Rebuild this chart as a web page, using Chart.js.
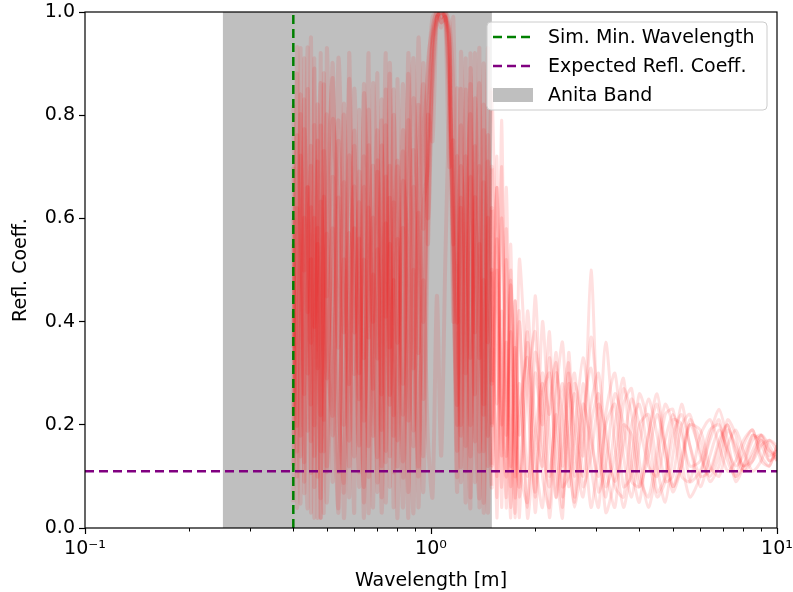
<!DOCTYPE html>
<html>
<head>
<meta charset="utf-8">
<script src="https://cdn.jsdelivr.net/npm/chart.js@4.4.1/dist/chart.umd.min.js"></script>
<style>
  html, body { margin: 0; padding: 0; background: #fff; }
  #wrap { width: 793px; height: 592px; }
</style>
</head>
<body>
<div id="wrap"><canvas id="reflChart" width="793" height="592"></canvas></div>
<script>
// Wavelength grid [m] shared by all simulated runs
const wavelength = [
  0.40, 0.41, 0.42, 0.43, 0.44, 0.45, 0.46, 0.47, 0.48, 0.49, 0.50, 0.52,
  0.54, 0.56, 0.58, 0.60, 0.62, 0.64, 0.66, 0.68, 0.70, 0.72, 0.74, 0.76,
  0.78, 0.80, 0.83, 0.86, 0.89, 0.92, 0.95, 0.98, 1.01, 1.04, 1.07, 1.10,
  1.13, 1.16, 1.19, 1.22, 1.26, 1.30, 1.34, 1.38, 1.42, 1.46, 1.50,
  1.55, 1.6, 1.65, 1.7, 1.75, 1.8, 1.9, 2.0, 2.1, 2.2, 2.3, 2.4, 2.5, 2.6,
  2.75, 2.9, 3.05, 3.2, 3.4, 3.6, 3.8, 4.0, 4.25, 4.5, 4.75, 5.0, 5.3, 5.6,
  6.0, 6.4, 6.8, 7.2, 7.6, 8.0, 8.5, 9.0, 9.5, 10.0
];

// Reflection coefficient of each simulated run, one value per wavelength
const reflA = [
  0.05, 0.62, 0.18, 0.91, 0.30, 0.74, 0.08, 0.55, 0.22, 0.86, 0.12, 0.68, 0.35, 0.80, 0.06, 0.58,
  0.25, 0.72, 0.10, 0.49, 0.33, 0.83, 0.15, 0.64, 0.04, 0.70, 0.28, 0.88, 0.19, 0.61, 0.40, 0.75,
  0.95, 0.99, 1.00, 0.99, 0.85, 0.62, 0.15, 0.78, 0.30, 0.86, 0.09, 0.55, 0.22, 0.71, 0.12,
  0.66, 0.20, 0.52, 0.08, 0.44, 0.18, 0.38, 0.06, 0.30, 0.22, 0.34, 0.12, 0.28, 0.20, 0.10, 0.24,
  0.30, 0.17, 0.09, 0.16, 0.25, 0.20, 0.12, 0.10, 0.17, 0.22, 0.18, 0.12, 0.13, 0.19, 0.20, 0.15,
  0.12, 0.14, 0.18, 0.17, 0.14, 0.15
];
const reflB = [
  0.70, 0.10, 0.84, 0.26, 0.66, 0.03, 0.78, 0.31, 0.92, 0.15, 0.57, 0.09, 0.75, 0.20, 0.87, 0.38,
  0.63, 0.05, 0.81, 0.27, 0.69, 0.12, 0.59, 0.24, 0.85, 0.17, 0.73, 0.07, 0.66, 0.34, 0.90, 0.60,
  0.85, 0.99, 1.00, 0.99, 0.93, 0.40, 0.72, 0.20, 0.91, 0.06, 0.64, 0.33, 0.82, 0.18, 0.50,
  0.06, 0.79, 0.14, 0.48, 0.02, 0.40, 0.10, 0.45, 0.16, 0.08, 0.26, 0.36, 0.14, 0.05, 0.22, 0.31,
  0.20, 0.08, 0.14, 0.27, 0.22, 0.10, 0.06, 0.15, 0.24, 0.20, 0.10, 0.09, 0.18, 0.21, 0.16, 0.11,
  0.13, 0.17, 0.19, 0.14, 0.12, 0.16
];
const reflC = [
  0.35, 0.88, 0.14, 0.60, 0.42, 0.95, 0.20, 0.71, 0.02, 0.64, 0.45, 0.90, 0.11, 0.52, 0.28, 0.77,
  0.16, 0.86, 0.37, 0.60, 0.07, 0.74, 0.41, 0.88, 0.22, 0.56, 0.13, 0.79, 0.31, 0.95, 0.58, 0.90,
  0.97, 1.00, 0.99, 1.00, 0.80, 0.55, 0.40, 0.85, 0.11, 0.68, 0.26, 0.93, 0.05, 0.60, 0.28,
  0.72, 0.04, 0.58, 0.12, 0.35, 0.02, 0.42, 0.20, 0.12, 0.33, 0.18, 0.04, 0.24, 0.30, 0.14, 0.50,
  0.16, 0.06, 0.20, 0.29, 0.12, 0.05, 0.18, 0.26, 0.16, 0.08, 0.12, 0.21, 0.17, 0.11, 0.16, 0.20,
  0.14, 0.11, 0.15, 0.18, 0.15, 0.13
];
const reflD = [
  0.12, 0.47, 0.80, 0.09, 0.66, 0.24, 0.89, 0.38, 0.06, 0.73, 0.29, 0.58, 0.03, 0.82, 0.44, 0.14,
  0.69, 0.33, 0.92, 0.18, 0.54, 0.26, 0.78, 0.08, 0.63, 0.36, 0.86, 0.21, 0.50, 0.12, 0.74, 0.88,
  0.99, 1.00, 0.98, 0.99, 0.96, 0.55, 0.85, 0.09, 0.55, 0.80, 0.17, 0.45, 0.90, 0.30, 0.08,
  0.56, 0.24, 0.10, 0.47, 0.30, 0.06, 0.28, 0.38, 0.10, 0.04, 0.30, 0.22, 0.08, 0.18, 0.33, 0.20,
  0.07, 0.12, 0.26, 0.20, 0.09, 0.08, 0.18, 0.24, 0.14, 0.07, 0.12, 0.20, 0.19, 0.12, 0.10, 0.16,
  0.19, 0.15, 0.11, 0.13, 0.17, 0.16
];
const reflE = [
  0.55, 0.20, 0.93, 0.07, 0.48, 0.70, 0.14, 0.82, 0.40, 0.03, 0.61, 0.87, 0.25, 0.09, 0.72, 0.46,
  0.11, 0.84, 0.59, 0.04, 0.71, 0.48, 0.13, 0.90, 0.42, 0.02, 0.67, 0.51, 0.16, 0.82, 0.25, 0.80,
  0.75, 0.99, 1.00, 0.99, 0.94, 0.45, 0.24, 0.70, 0.46, 0.04, 0.83, 0.52, 0.15, 0.76, 0.44,
  0.10, 0.60, 0.30, 0.02, 0.44, 0.12, 0.05, 0.34, 0.24, 0.02, 0.20, 0.28, 0.16, 0.04, 0.16, 0.37,
  0.22, 0.03, 0.10, 0.24, 0.27, 0.13, 0.04, 0.12, 0.22, 0.23, 0.13, 0.06, 0.10, 0.18, 0.23, 0.17,
  0.10, 0.12, 0.17, 0.18, 0.13, 0.14
];
const reflF = [
  0.82, 0.31, 0.05, 0.77, 0.58, 0.17, 0.91, 0.02, 0.63, 0.47, 0.11, 0.79, 0.60, 0.07, 0.92, 0.30,
  0.56, 0.02, 0.74, 0.40, 0.88, 0.06, 0.68, 0.35, 0.80, 0.51, 0.04, 0.61, 0.91, 0.43, 0.07, 0.58,
  0.94, 0.99, 1.00, 0.98, 0.70, 0.75, 0.20, 0.62, 0.05, 0.89, 0.38, 0.70, 0.03, 0.54, 0.85,
  0.40, 0.08, 0.66, 0.20, 0.03, 0.52, 0.26, 0.07, 0.40, 0.18, 0.06, 0.24, 0.32, 0.10, 0.28, 0.12,
  0.04, 0.22, 0.30, 0.14, 0.06, 0.16, 0.25, 0.18, 0.09, 0.10, 0.20, 0.22, 0.14, 0.10, 0.14, 0.21,
  0.18, 0.11, 0.13, 0.18, 0.16, 0.13
];
const reflG = [
  0.22, 0.76, 0.44, 0.13, 0.85, 0.36, 0.60, 0.10, 0.78, 0.21, 0.93, 0.33, 0.04, 0.67, 0.17, 0.85,
  0.48, 0.08, 0.62, 0.28, 0.14, 0.79, 0.05, 0.55, 0.18, 0.87, 0.10, 0.45, 0.73, 0.04, 0.62, 0.70,
  0.88, 0.99, 0.97, 1.00, 0.95, 0.60, 0.10, 0.92, 0.58, 0.20, 0.74, 0.04, 0.67, 0.12, 0.62,
  0.02, 0.42, 0.18, 0.55, 0.06, 0.22, 0.33, 0.03, 0.26, 0.30, 0.12, 0.02, 0.34, 0.16, 0.06, 0.20,
  0.26, 0.12, 0.04, 0.20, 0.18, 0.08, 0.14, 0.22, 0.16, 0.08, 0.14, 0.20, 0.15, 0.09, 0.12, 0.19,
  0.16, 0.12, 0.14, 0.17, 0.15, 0.14
];
const reflH = [
  0.60, 0.04, 0.37, 0.83, 0.19, 0.52, 0.02, 0.66, 0.86, 0.27, 0.05, 0.44, 0.79, 0.38, 0.57, 0.03,
  0.81, 0.21, 0.45, 0.70, 0.09, 0.37, 0.92, 0.26, 0.48, 0.12, 0.77, 0.37, 0.03, 0.68, 0.86, 0.55,
  0.93, 0.98, 0.99, 1.00, 0.98, 0.85, 0.45, 0.12, 0.85, 0.14, 0.60, 0.86, 0.24, 0.93, 0.20,
  0.50, 0.14, 0.36, 0.04, 0.27, 0.42, 0.02, 0.18, 0.28, 0.10, 0.22, 0.06, 0.18, 0.26, 0.08, 0.14,
  0.24, 0.19, 0.08, 0.06, 0.20, 0.24, 0.14, 0.06, 0.09, 0.18, 0.22, 0.16, 0.10, 0.11, 0.17, 0.20,
  0.15, 0.12, 0.13, 0.16, 0.17, 0.15
];
const reflI = [
  0.18, 0.93, 0.58, 0.25, 0.04, 0.62, 0.39, 0.75, 0.15, 0.50, 0.80, 0.18, 0.64, 0.02, 0.41, 0.66,
  0.08, 0.52, 0.16, 0.86, 0.58, 0.03, 0.45, 0.70, 0.11, 0.31, 0.58, 0.02, 0.83, 0.56, 0.14, 0.79,
  0.96, 1.00, 0.98, 0.99, 0.88, 0.55, 0.07, 0.64, 0.16, 0.92, 0.22, 0.06, 0.77, 0.36, 0.70,
  0.24, 0.70, 0.04, 0.38, 0.16, 0.08, 0.36, 0.14, 0.04, 0.24, 0.32, 0.08, 0.10, 0.28, 0.20, 0.04,
  0.15, 0.36, 0.16, 0.04, 0.13, 0.26, 0.20, 0.07, 0.10, 0.21, 0.20, 0.09, 0.11, 0.17, 0.21, 0.13,
  0.10, 0.16, 0.19, 0.13, 0.12, 0.16
];
const reflJ = [
  0.42, 0.15, 0.72, 0.50, 0.93, 0.11, 0.33, 0.58, 0.02, 0.88, 0.35, 0.22, 0.91, 0.55, 0.12, 0.74,
  0.30, 0.66, 0.03, 0.40, 0.77, 0.19, 0.85, 0.14, 0.57, 0.71, 0.22, 0.92, 0.40, 0.10, 0.48, 0.17,
  0.06, 0.45, 0.14, 0.52, 0.82, 0.99, 0.50, 0.18, 0.72, 0.33, 0.92, 0.15, 0.48, 0.03, 0.35,
  0.66, 0.26, 0.06, 0.50, 0.10, 0.28, 0.04, 0.30, 0.20, 0.38, 0.06, 0.16, 0.30, 0.06, 0.24, 0.17,
  0.10, 0.20, 0.24, 0.08, 0.10, 0.20, 0.22, 0.12, 0.05, 0.14, 0.24, 0.16, 0.08, 0.14, 0.19, 0.15,
  0.09, 0.12, 0.18, 0.16, 0.13, 0.15
];
const reflRuns = [reflA, reflB, reflC, reflD, reflE, reflF, reflG, reflH, reflI, reflJ];

// Reference markers
const anitaBand = [0.25, 1.5];
const simMinWavelength = 0.4;
const expectedRefl = 0.11;

// Axis ticks
const xRange = [0.1, 10];
const xTickValues = [0.1, 1, 10];
const xTickLabels = ['10⁻¹', '10⁰', '10¹'];
const xMinorTicks = [0.2, 0.3, 0.4, 0.5, 0.6, 0.7, 0.8, 0.9, 2, 3, 4, 5, 6, 7, 8, 9];
const yTickValues = [0, 0.2, 0.4, 0.6, 0.8, 1.0];

const legendItems = [
  { label: 'Sim. Min. Wavelength', kind: 'line', color: '#008000' },
  { label: 'Expected Refl. Coeff.', kind: 'line', color: '#800080' },
  { label: 'Anita Band', kind: 'patch', color: '#bfbfbf' }
];

Chart.defaults.font.family = "'DejaVu Sans', sans-serif";
Chart.defaults.font.size = 19;
Chart.defaults.color = '#000';

function roundRectPath(ctx, x, y, w, h, r) {
  ctx.beginPath();
  ctx.moveTo(x + r, y);
  ctx.lineTo(x + w - r, y);
  ctx.arcTo(x + w, y, x + w, y + r, r);
  ctx.lineTo(x + w, y + h - r);
  ctx.arcTo(x + w, y + h, x + w - r, y + h, r);
  ctx.lineTo(x + r, y + h);
  ctx.arcTo(x, y + h, x, y + h - r, r);
  ctx.lineTo(x, y + r);
  ctx.arcTo(x, y, x + r, y, r);
  ctx.closePath();
}

// Minor ticks, axes frame and the in-plot legend
const frameAndLegend = {
  id: 'frameAndLegend',
  afterDraw(chart) {
    const { ctx, chartArea: a } = chart;
    const xs = chart.scales.x;
    ctx.save();
    ctx.strokeStyle = '#000';
    ctx.lineWidth = 1;
    xMinorTicks.forEach(v => {
      const px = Math.round(xs.getPixelForValue(v)) + 0.5;
      ctx.beginPath();
      ctx.moveTo(px, a.bottom);
      ctx.lineTo(px, a.bottom + 3.5);
      ctx.stroke();
    });
    ctx.lineWidth = 1.2;
    ctx.strokeRect(a.left, a.top, a.right - a.left, a.bottom - a.top);

    const x0 = a.right - 290, y0 = a.top + 10, w = 280, h = 88;
    roundRectPath(ctx, x0, y0, w, h, 4);
    ctx.fillStyle = 'rgba(255,255,255,0.8)';
    ctx.fill();
    ctx.strokeStyle = '#cccccc';
    ctx.lineWidth = 1;
    ctx.stroke();

    ctx.font = "19px 'DejaVu Sans', sans-serif";
    ctx.textBaseline = 'middle';
    ctx.textAlign = 'left';
    legendItems.forEach((item, i) => {
      const cy = y0 + 15 + i * 29;
      if (item.kind === 'line') {
        ctx.strokeStyle = item.color;
        ctx.lineWidth = 2.5;
        ctx.setLineDash([9, 5]);
        ctx.beginPath();
        ctx.moveTo(x0 + 6, cy);
        ctx.lineTo(x0 + 46, cy);
        ctx.stroke();
        ctx.setLineDash([]);
      } else {
        ctx.fillStyle = item.color;
        ctx.fillRect(x0 + 6, cy - 7, 40, 14);
      }
      ctx.fillStyle = '#000';
      ctx.fillText(item.label, x0 + 61, cy + 1);
    });
    ctx.restore();
  }
};

// runs overlap far more inside the band, so strokes there are wider
const inBand = c => c.p0.parsed.x < anitaBand[1];
const runDatasets = reflRuns.map(r => ({
  data: wavelength.map((w, i) => ({ x: w, y: r[i] })),
  borderColor: 'rgba(255,0,0,0.12)',
  borderWidth: 3,
  segment: {
    borderColor: c => inBand(c) ? 'rgba(255,0,0,0.1)' : 'rgba(255,0,0,0.12)',
    borderWidth: c => inBand(c) ? 4 : 3
  },
  pointRadius: 0,
  tension: 0.25,
  fill: false,
  order: 2
}));

const ctx = document.getElementById('reflChart').getContext('2d');
new Chart(ctx, {
  type: 'line',
  data: {
    datasets: [
      {
        label: 'Sim. Min. Wavelength',
        data: [{ x: simMinWavelength, y: 0 }, { x: simMinWavelength, y: 1 }],
        borderColor: '#008000', borderWidth: 2.5, borderDash: [9, 5],
        pointRadius: 0, fill: false, order: 0
      },
      {
        label: 'Expected Refl. Coeff.',
        data: [{ x: xRange[0], y: expectedRefl }, { x: xRange[1], y: expectedRefl }],
        borderColor: '#800080', borderWidth: 2.5, borderDash: [9, 5],
        pointRadius: 0, fill: false, order: 0
      },
      ...runDatasets,
      {
        label: 'Anita Band',
        data: [{ x: anitaBand[0], y: 1 }, { x: anitaBand[1], y: 1 }],
        borderWidth: 0, borderColor: 'rgba(0,0,0,0)',
        backgroundColor: '#bfbfbf', pointRadius: 0,
        fill: 'origin', order: 3
      }
    ]
  },
  options: {
    responsive: false,
    animation: false,
    events: [],
    layout: { padding: { top: 12, right: 16, left: 0, bottom: 0 } },
    plugins: { legend: { display: false }, tooltip: { enabled: false } },
    scales: {
      x: {
        type: 'logarithmic',
        min: xRange[0], max: xRange[1],
        afterBuildTicks: scale => { scale.ticks = xTickValues.map(v => ({ value: v, major: true })); },
        afterFit: scale => { scale.height = 64; scale.paddingLeft = 0; scale.paddingRight = 0; },
        ticks: {
          autoSkip: false, maxRotation: 0, padding: 4,
          callback: v => xTickLabels[xTickValues.indexOf(v)] ?? ''
        },
        grid: { drawOnChartArea: false, drawTicks: true, tickLength: 6, tickColor: '#000', tickWidth: 1.2 },
        border: { display: false },
        title: { display: true, text: 'Wavelength [m]', padding: { top: 3, bottom: 0 } }
      },
      y: {
        min: 0, max: 1,
        afterBuildTicks: scale => { scale.ticks = yTickValues.map(v => ({ value: v })); },
        afterFit: scale => { scale.width = 85; scale.paddingTop = 0; scale.paddingBottom = 0; },
        ticks: { padding: 4, callback: v => v.toFixed(1) },
        grid: { drawOnChartArea: false, drawTicks: true, tickLength: 6, tickColor: '#000', tickWidth: 1.2 },
        border: { display: false },
        title: { display: true, text: 'Refl. Coeff.', padding: { top: 10, bottom: 0 } }
      }
    }
  },
  plugins: [frameAndLegend]
});
</script>
</body>
</html>
